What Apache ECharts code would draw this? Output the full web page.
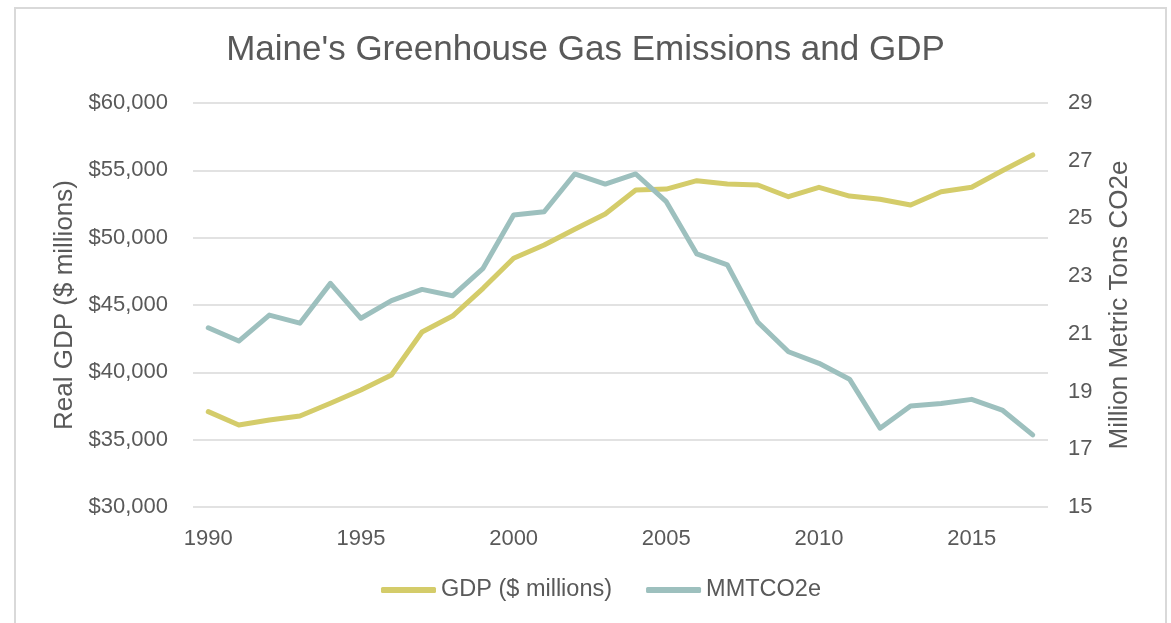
<!DOCTYPE html>
<html>
<head>
<meta charset="utf-8">
<script src="https://cdn.jsdelivr.net/npm/echarts@6/dist/echarts.min.js"></script>
<style>
  html, body { margin: 0; padding: 0; background: #fff; }
  #frame {
    position: absolute; left: 14px; top: 7px; width: 1153px; height: 640px;
    border: 2px solid #d9d9d9; box-sizing: border-box;
  }
  #chart { position: absolute; left: 0; top: 0; width: 1171px; height: 623px; }
</style>
</head>
<body>
<div id="frame"></div>
<div id="chart"></div>
<script>
const years = [
  "1990", "1991", "1992", "1993", "1994", "1995", "1996", "1997", "1998", "1999",
  "2000", "2001", "2002", "2003", "2004", "2005", "2006", "2007", "2008", "2009",
  "2010", "2011", "2012", "2013", "2014", "2015", "2016", "2017",
];

// real GDP, $ millions
const gdp = [
  37080, 36090, 36460, 36760, 37700, 38690, 39800, 43000, 44180, 46240,
  48470, 49450, 50620, 51760, 53540, 53610, 54230, 53980, 53910, 53040,
  53740, 53090, 52850, 52430, 53410, 53740, 54970, 56140,
];

// million metric tons CO2e
const emissions = [
  21.21, 20.75, 21.65, 21.37, 22.75, 21.54, 22.15, 22.54, 22.32, 23.27,
  25.12, 25.23, 26.54, 26.19, 26.54, 25.58, 23.77, 23.39, 21.40, 20.38,
  19.98, 19.43, 17.73, 18.50, 18.59, 18.73, 18.36, 17.50,
];

const rightTicks = [15, 17, 19, 21, 23, 25, 27, 29];

const FONT = "'Liberation Sans', Arial, sans-serif";
const TEXT = "#595959";

const chart = echarts.init(document.getElementById("chart"));

chart.setOption({
  animation: false,
  textStyle: { fontFamily: FONT, color: TEXT },
  title: {
    text: "Maine's Greenhouse Gas Emissions and GDP",
    left: "center",
    top: 28,
    textStyle: { fontFamily: FONT, fontSize: 35, fontWeight: "normal", color: TEXT },
  },
  legend: {
    bottom: 16,
    left: 376,
    itemWidth: 55,
    itemHeight: 6,
    itemGap: 34,
    icon: "roundRect",
    textStyle: { fontFamily: FONT, fontSize: 23.5, color: TEXT },
  },
  grid: { left: 193, right: 123, top: 103, bottom: 116 },
  xAxis: {
    type: "category",
    data: years,
    boundaryGap: true,
    axisLine: { show: false },
    axisTick: { show: false },
    axisLabel: {
      interval: 4,
      margin: 21,
      fontSize: 22,
      color: TEXT,
      fontFamily: FONT,
    },
  },
  yAxis: [
    {
      type: "value",
      min: 30000,
      max: 60000,
      interval: 5000,
      name: "Real GDP ($ millions)",
      nameLocation: "middle",
      nameRotate: 90,
      nameGap: 103,
      nameTextStyle: { fontFamily: FONT, fontSize: 26, color: TEXT },
      axisLabel: {
        margin: 25,
        fontSize: 22,
        color: TEXT,
        fontFamily: FONT,
        formatter: (v) => "$" + v.toLocaleString("en-US"),
      },
      splitLine: { lineStyle: { color: "#d9d9d9", width: 1.5 } },
    },
    {
      type: "value",
      min: 15,
      max: 29,
      position: "right",
      name: "Million Metric Tons CO2e",
      nameLocation: "middle",
      nameRotate: 90,
      nameGap: 59,
      nameTextStyle: { fontFamily: FONT, fontSize: 26, color: TEXT },
      axisLine: { show: false },
      axisTick: { show: false },
      splitLine: { show: false },
      axisLabel: {
        margin: 20,
        fontSize: 22,
        color: TEXT,
        fontFamily: FONT,
        customValues: rightTicks,
      },
    },
  ],
  series: [
    {
      name: "GDP ($ millions)",
      type: "line",
      data: gdp,
      yAxisIndex: 0,
      showSymbol: false,
      symbol: "none",
      lineStyle: { width: 5, color: "#d4cc6a", cap: "round", join: "round" },
      itemStyle: { color: "#d4cc6a" },
    },
    {
      name: "MMTCO2e",
      type: "line",
      data: emissions,
      yAxisIndex: 1,
      showSymbol: false,
      symbol: "none",
      lineStyle: { width: 5, color: "#9dc0be", cap: "round", join: "round" },
      itemStyle: { color: "#9dc0be" },
    },
  ],
});
</script>
</body>
</html>
